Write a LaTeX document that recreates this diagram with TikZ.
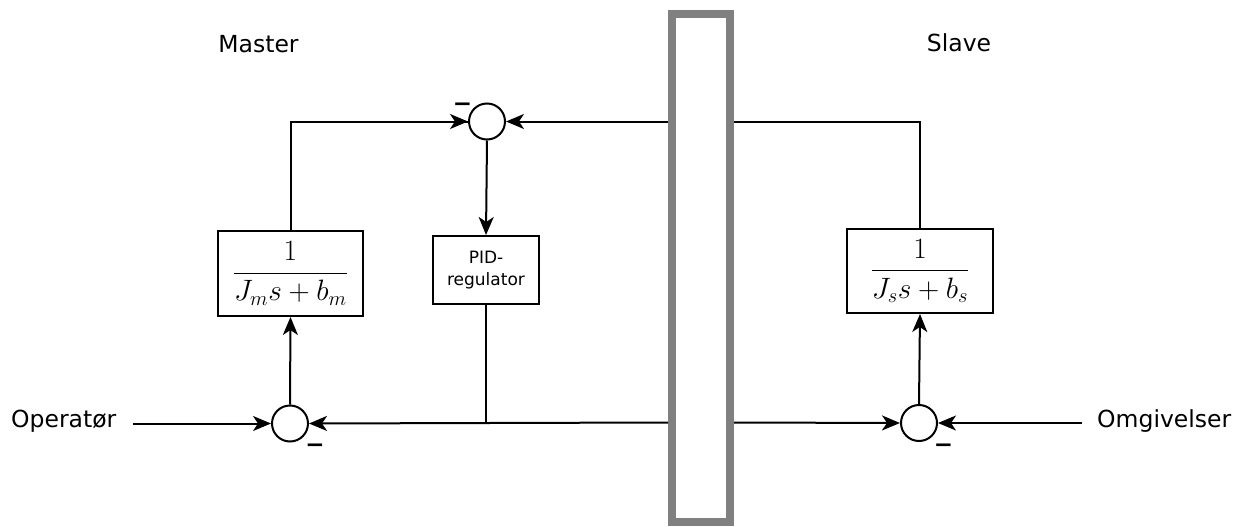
\documentclass[tikz,border=0pt]{standalone}
\usepackage[no-math]{fontspec}
\usepackage{graphicx}
\setmainfont{DejaVu Sans}
\usetikzlibrary{arrows.meta}
\begin{document}
\begin{tikzpicture}[x=1pt,y=-1pt,
  wire/.style={line width=2pt},
  conn/.style={line width=2pt,-{Stealth[length=18pt,width=15pt,inset=5pt]}},
  sumnode/.style={circle,draw,line width=2pt,minimum size=36pt,inner sep=0pt,fill=white},
  blk/.style={draw,line width=2pt,fill=white,inner sep=0pt},
  lbl/.style={font=\fontsize{23.5}{28}\selectfont,inner sep=0pt,anchor=base},
  minus/.style={font=\fontsize{23}{26}\bfseries\selectfont,inner sep=0pt},
  frac/.style={font=\fontsize{20.74}{26}\selectfont}
]
\useasboundingbox (0,0) rectangle (1245,527);

% channel bar
\node[draw=gray,line width=8pt,minimum width=58pt,minimum height=508pt,inner sep=0pt] (bar) at (701,268) {};

% sum junctions
\node[sumnode] (stop) at (487,121.5) {};
\node[sumnode] (sml) at (290,423.5) {};
\node[sumnode] (ssl) at (919,423) {};

% blocks
\node[blk,frac,minimum width=145pt,minimum height=85pt] (gm) at (290.5,273.5) {\scalebox{1.42}{$\displaystyle\frac{1}{J_m s+b_m}$}};
\node[blk,frac,minimum width=146pt,minimum height=84pt] (gs) at (920,271) {\scalebox{1.42}{$\displaystyle\frac{1}{J_s s+b_s}$}};
\node[blk,minimum width=106pt,minimum height=68pt,align=center,font=\fontsize{17}{22}\selectfont] (pid) at (486,270) {PID-\\regulator};

% labels
\node[lbl] (master) at (258.5,52.5) {Master};
\node[lbl] (slave) at (959,52) {Slave};
\node[lbl,anchor=base west] (oper) at (11,427) {Operatør};
\node[lbl,anchor=base west] (omg) at (1097,427) {Omgivelser};

% minus signs
\node[minus] (m1) at (462.5,107) {−};
\node[minus] (m2) at (315,448) {−};
\node[minus] (m3) at (943.5,448) {−};

% free ends
\coordinate (opin) at (133,423.5);
\coordinate (omgin) at (1082,423);

% connectors
\draw[wire] (gm.north) |- (stop.west);
\draw[conn] (gm.north |- stop.west) -- (stop.west);
\draw[conn] (bar.west |- stop.east) -- (stop.east);
\draw[wire] (gs.north) |- (bar.east |- 0,121.5);
\draw[conn] (stop.south) -- (pid.north);
\draw[wire] (pid.south) -- (pid.south |- 0,422.5);
\draw[conn] (bar.west |- 0,422.5) -- (sml.east);
\draw[conn] (opin) -- (sml.west);
\draw[conn] (sml.north) -- (gm.south);
\draw[conn] (bar.east |- 0,422.5) -- (ssl.west);
\draw[conn] (omgin) -- (ssl.east);
\draw[conn] (ssl.north) -- (gs.south);
\end{tikzpicture}
\end{document}
